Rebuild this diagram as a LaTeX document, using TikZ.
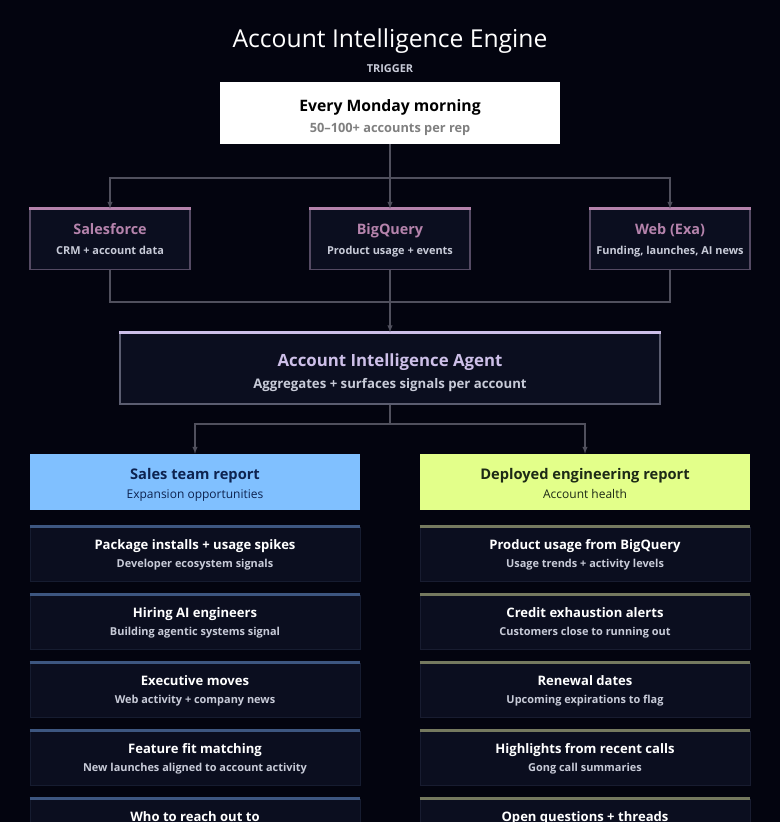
\documentclass[tikz,border=0pt]{standalone}
\usepackage{fontspec}
\setmainfont{Open Sans}
\usepackage{xcolor}
\usetikzlibrary{arrows,positioning,calc}

\definecolor{pagebg}{HTML}{03040F}
\definecolor{cardbg}{HTML}{0B0E1F}
\definecolor{linegray}{HTML}{50505D}
\definecolor{mauve}{HTML}{B583AC}
\definecolor{mauveedge}{HTML}{544A63}
\definecolor{lilac}{HTML}{CDBFE8}
\definecolor{agentedge}{HTML}{5B5D70}
\definecolor{subtext}{HTML}{C8CBD8}
\definecolor{salesblue}{HTML}{80C0FF}
\definecolor{salesink}{HTML}{0D2350}
\definecolor{deploylime}{HTML}{E3FF8A}
\definecolor{deployink}{HTML}{1D2A16}
\definecolor{bluestripe}{HTML}{3D5680}
\definecolor{olivestripe}{HTML}{75795F}
\definecolor{blueedge}{HTML}{161C30}
\definecolor{oliveedge}{HTML}{181C30}

\newcommand{\boxtext}[6]{{\color{#1}\fontsize{#2}{#2}\selectfont\bfseries\rule[-3pt]{0pt}{#5}#3}\\[#6]\rule[-2.5pt]{0pt}{8pt}#4}

\begin{document}
\begin{tikzpicture}[x=0.75pt,y=-0.75pt]
  \tikzset{flow/.style={draw=linegray,line width=0.8pt}}
  \tikzset{feed/.style={flow,->,>=latex}}
  \tikzset{source/.style={draw=mauveedge,line width=1.1pt,fill=cardbg,minimum width=120pt,minimum height=45pt,align=center,inner sep=0pt,font=\fontsize{8.2}{10}\selectfont\bfseries,text=subtext}}
  \tikzset{card/.style={draw=#1,line width=0.7pt,fill=cardbg,minimum width=247.5pt,minimum height=40.5pt,align=center,inner sep=0pt,font=\fontsize{8.2}{10}\selectfont\bfseries,text=subtext}}
  \tikzset{header/.style={fill=#1,minimum width=247.5pt,minimum height=42pt,align=center,inner sep=0pt,font=\fontsize{9}{11}\selectfont}}

  \fill[pagebg] (0,0) rectangle (780,822);
  \useasboundingbox (0,0) rectangle (780,822);
  \clip (0,0) rectangle (780,822);

  \node[text=white,font=\fontsize{18.5}{22}\selectfont] (title) at (390,41) {Account Intelligence Engine};
  \node[text=subtext,font=\fontsize{8.2}{10}\selectfont\bfseries] (trigtag) at (390,68.5) {TRIGGER};
  \node[fill=white,minimum width=255pt,minimum height=46.5pt,align=center,inner sep=0pt,text=gray,font=\fontsize{9.6}{12}\selectfont\bfseries] (trigger) at (390,113)
    {\boxtext{black}{11.8}{Every Monday morning}{50–100+ accounts per rep}{18.25pt}{3.75pt}};

  \node[source] (salesforce) at (110,239.5) {\boxtext{mauve}{10.8}{Salesforce}{CRM + account data}{13pt}{4.5pt}};
  \node[source] (bigquery) at (390,239.5) {\boxtext{mauve}{10.8}{BigQuery}{Product usage + events}{13pt}{4.5pt}};
  \node[source] (web) at (670,239.5) {\boxtext{mauve}{10.8}{Web (Exa)}{Funding, launches, AI news}{13pt}{4.5pt}};

  \node[draw=agentedge,line width=1.3pt,fill=cardbg,minimum width=405pt,minimum height=53pt,align=center,inner sep=0pt,text=subtext,font=\fontsize{9.9}{12}\selectfont\bfseries] (agent) at (390,368.5)
    {\boxtext{lilac}{12.6}{Account Intelligence Agent}{Aggregates + surfaces signals per account}{19.7pt}{4.5pt}};

  \node[header=salesblue,text=salesink] (sales) at (195,482) {\boxtext{salesink}{11}{Sales team report}{Expansion opportunities}{15.5pt}{3.5pt}};
  \node[header=deploylime,text=deployink] (deployed) at (585,482) {\boxtext{deployink}{11}{Deployed engineering report}{Account health}{15.5pt}{3.5pt}};

  \node[card=blueedge] (installs) at (195,554) {\boxtext{white}{9.8}{Package installs + usage spikes}{Developer ecosystem signals}{12.05pt}{3.55pt}};
  \node[card=blueedge] (hiring) at (195,622) {\boxtext{white}{9.8}{Hiring AI engineers}{Building agentic systems signal}{12.05pt}{3.55pt}};
  \node[card=blueedge] (moves) at (195,690) {\boxtext{white}{9.8}{Executive moves}{Web activity + company news}{12.05pt}{3.55pt}};
  \node[card=blueedge] (fit) at (195,758) {\boxtext{white}{9.8}{Feature fit matching}{New launches aligned to account activity}{12.05pt}{3.55pt}};
  \node[card=blueedge] (reach) at (195,826) {\boxtext{white}{9.8}{Who to reach out to}{}{12.05pt}{3.55pt}};

  \node[card=oliveedge] (usage) at (585,554) {\boxtext{white}{9.8}{Product usage from BigQuery}{Usage trends + activity levels}{12.05pt}{3.55pt}};
  \node[card=oliveedge] (credit) at (585,622) {\boxtext{white}{9.8}{Credit exhaustion alerts}{Customers close to running out}{12.05pt}{3.55pt}};
  \node[card=oliveedge] (renewal) at (585,690) {\boxtext{white}{9.8}{Renewal dates}{Upcoming expirations to flag}{12.05pt}{3.55pt}};
  \node[card=oliveedge] (calls) at (585,758) {\boxtext{white}{9.8}{Highlights from recent calls}{Gong call summaries}{12.05pt}{3.55pt}};
  \node[card=oliveedge] (threads) at (585,826) {\boxtext{white}{9.8}{Open questions + threads}{}{12.05pt}{3.55pt}};

  % top stripes
  \foreach \n in {salesforce,bigquery,web}
    \draw[mauve,line width=2pt] (\n.north west) -- (\n.north east);
  \draw[lilac,line width=2.2pt] (agent.north west) -- (agent.north east);
  \foreach \n in {installs,hiring,moves,fit,reach}
    \draw[bluestripe,line width=2.2pt] (\n.north west) -- (\n.north east);
  \foreach \n in {usage,credit,renewal,calls,threads}
    \draw[olivestripe,line width=2.2pt] (\n.north west) -- (\n.north east);

  % connectors
  \coordinate (fanout) at (390,178);
  \coordinate (merge) at (390,302);
  \coordinate (split) at (390,424);

  \draw[flow] (trigger.south)--(fanout);
  \draw[feed] (fanout)-|(salesforce.north);
  \draw[feed] (fanout)--(bigquery.north);
  \draw[feed] (fanout)-|(web.north);

  \draw[flow] (salesforce.south)|-(merge);
  \draw[flow] (bigquery.south)--(merge);
  \draw[flow] (web.south)|-(merge);
  \draw[feed] (merge)--(agent.north);

  \draw[flow] (agent.south)--(split);
  \draw[feed] (split)-|(sales.north);
  \draw[feed] (split)-|(deployed.north);
\end{tikzpicture}
\end{document}
